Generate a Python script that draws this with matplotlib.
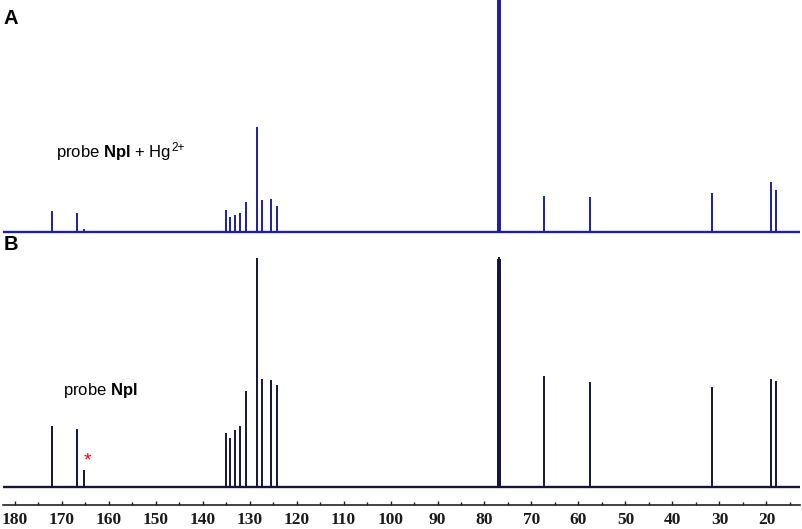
import numpy as np
import matplotlib
matplotlib.use("Agg")
import matplotlib.pyplot as plt
from matplotlib.ticker import MultipleLocator

plt.rcParams['font.family'] = ['Liberation Sans', 'DejaVu Sans']
plt.rcParams['mathtext.fontset'] = 'custom'
plt.rcParams['mathtext.rm'] = 'Liberation Sans'
plt.rcParams['mathtext.bf'] = 'Liberation Sans:bold'

# peak positions (ppm), shared by both spectra
shifts = [172.0, 166.6, 165.3, 135.1, 134.1, 133.1, 132.0, 130.7, 128.5,
          127.3, 125.4, 124.1, 77.2, 77.0, 76.8, 67.3, 57.6, 31.6, 19.0, 17.9]
# peak heights (arbitrary units)
height_a = [21, 19, 3, 22, 15.5, 17, 19, 30, 105,
            32, 33, 26.5, 232, 234, 232, 36.5, 35.5, 39, 50, 42.5]
height_b = [61, 58, 17, 54, 49, 57, 61, 96, 229,
            108, 107, 102, 228, 230, 228, 111, 105, 100, 108, 106]

tick_ppm = list(range(180, 10, -10))
label_a = 'probe $\\mathbf{Npl}$ + Hg'
label_a_sup = '2+'
label_b = 'probe $\\mathbf{Npl}$'

W, H = 803, 529
fig = plt.figure(figsize=(W / 100, H / 100), dpi=100)

left = 3 / W
width = 797 / W
xlim = (182.45, 12.87)

# top spectrum (A)
ax_a = fig.add_axes([left, 1 - 245 / H, width, 245 / H])
ax_a.vlines(shifts, 0, height_a, color='#1f1fa0', lw=1.4)
ax_a.plot(xlim, [0, 0], color='#1f1fa0', lw=1.7)
ax_a.set_xlim(*xlim)
ax_a.set_ylim(-13, 232)
ax_a.axis('off')

# bottom spectrum (B) with the ppm axis
ax_b = fig.add_axes([left, 1 - 505 / H, width, 255 / H])
ax_b.vlines(shifts, 0, height_b, color='#14143c', lw=1.4)
ax_b.plot(xlim, [0, 0], color='#14143c', lw=1.7)
ax_b.set_xlim(*xlim)
ax_b.set_ylim(-18, 237)
for s in ['top', 'left', 'right']:
    ax_b.spines[s].set_visible(False)
ax_b.spines['bottom'].set_linewidth(1.2)
ax_b.spines['bottom'].set_color('#222222')
ax_b.set_yticks([])
ax_b.set_xticks(tick_ppm)
ax_b.xaxis.set_minor_locator(MultipleLocator(5))
ax_b.tick_params(axis='x', which='major', direction='in', length=3, width=1,
                 pad=5, labelsize=12.5, colors='#1a1a1a')
ax_b.tick_params(axis='x', which='minor', direction='in', length=2, width=1,
                 colors='#1a1a1a')
for t in ax_b.get_xticklabels():
    t.set_fontfamily('Liberation Serif')
    t.set_fontweight('bold')

fig.text(4 / W, 1 - 18 / H, 'A', fontsize=14.5, fontweight='bold', va='center')
fig.text(4 / W, 1 - 245 / H, 'B', fontsize=14.5, fontweight='bold', va='center')
ta = fig.text(56 / W, 1 - 152 / H, label_a, fontsize=12, va='center')
# superscript placed right after the "Hg" text
plt.annotate(label_a_sup, xy=(1.0, 1.02), xycoords=ta, fontsize=8.5,
             va='top', ha='left', annotation_clip=False)
fig.text(63 / W, 1 - 391 / H, label_b, fontsize=12, va='center')
fig.text(87 / W, 1 - 461 / H, '*', fontsize=14, color='red', ha='center', va='center')

fig.savefig('out.png', dpi=100)
